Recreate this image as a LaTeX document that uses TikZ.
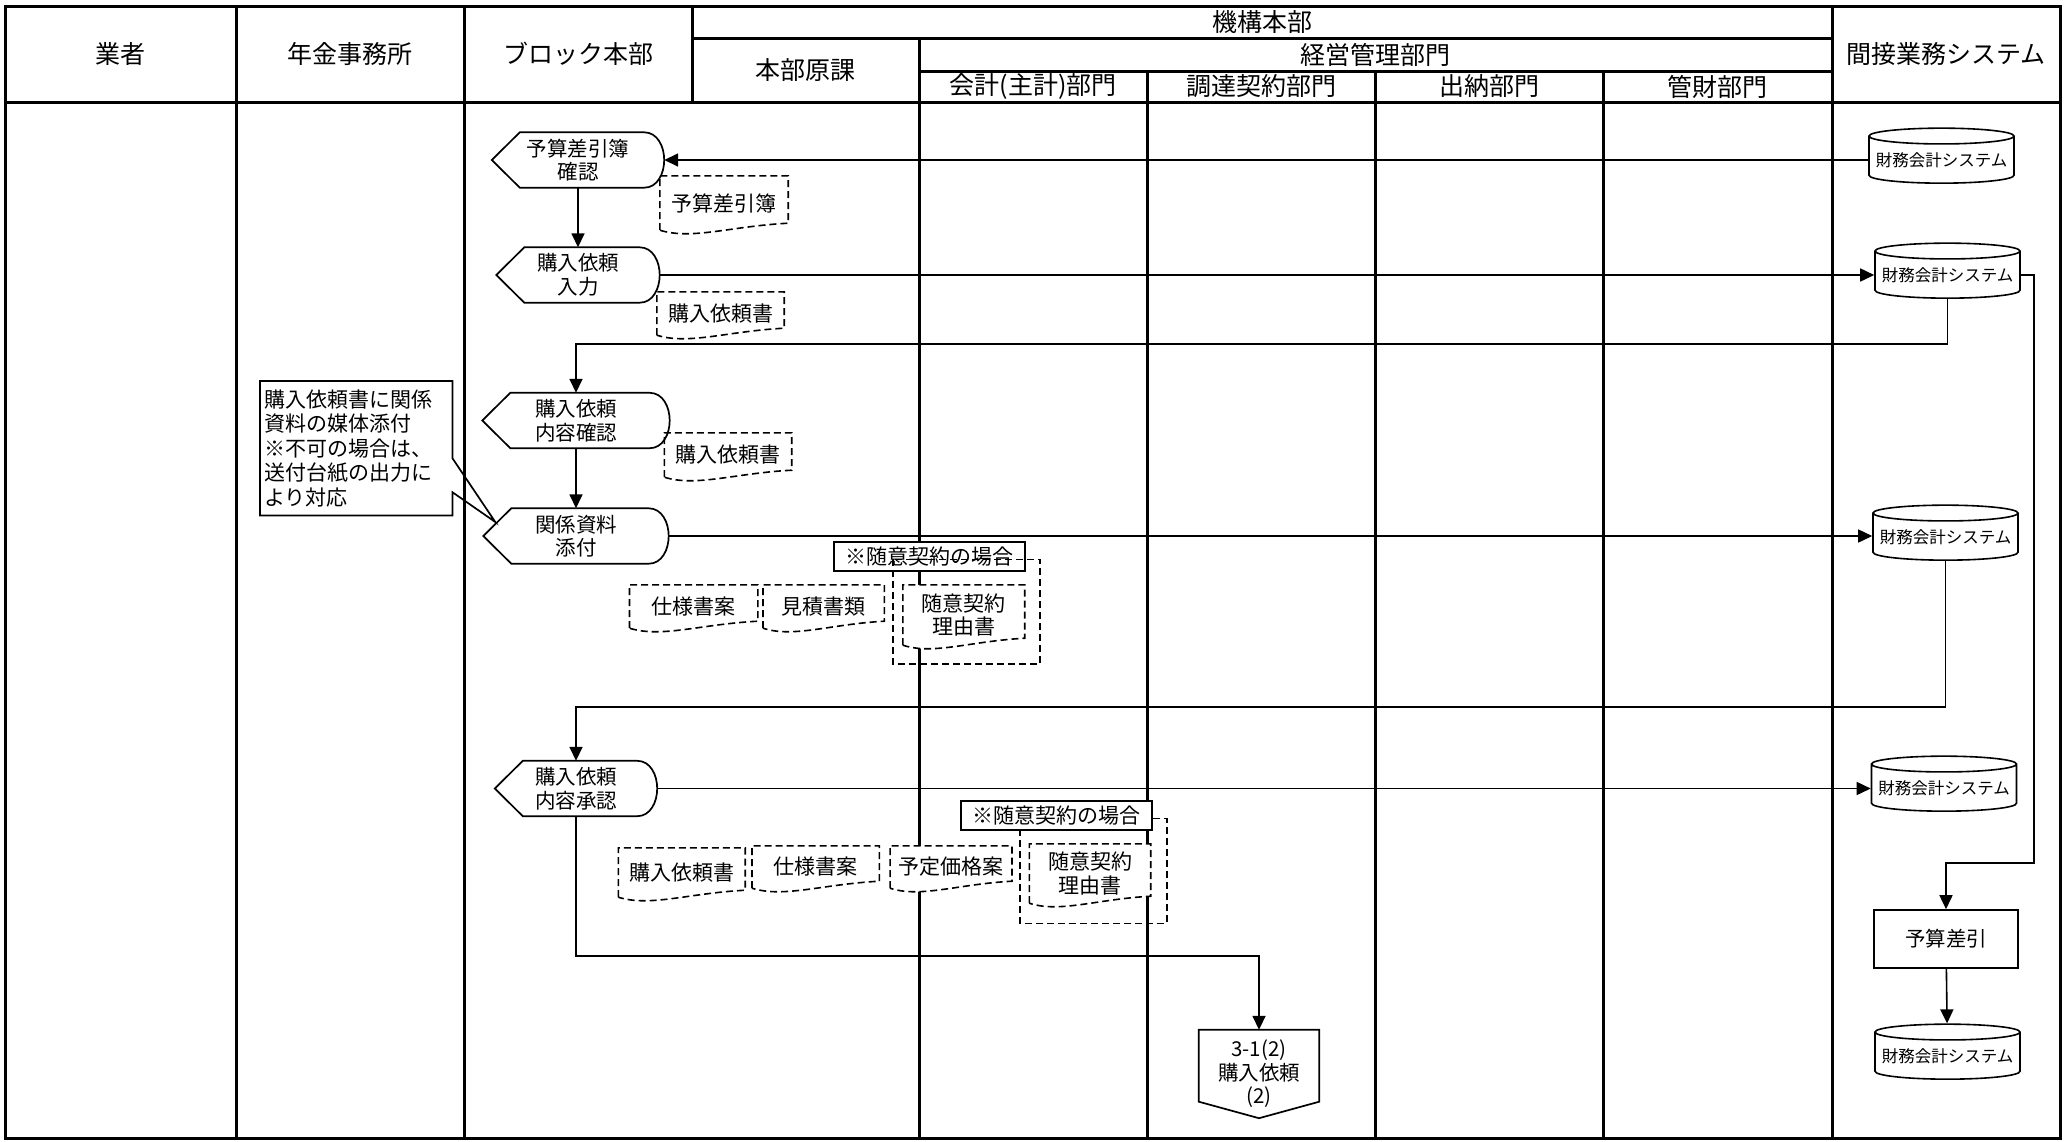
\documentclass[tikz,border=0pt]{standalone}
\usepackage{fontspec}
\setmainfont{Noto Sans CJK JP}
\usepackage{tikz}
\usetikzlibrary{positioning,arrows.meta,shapes.geometric,calc,backgrounds}
\newcommand\headfont{\fontsize{25}{30}\selectfont}
\newcommand\flowfont{\fontsize{20.5}{23.5}\selectfont}
\newcommand\docfont{\fontsize{21}{23.5}\selectfont}
\newcommand\memofont{\fontsize{21}{24.5}\selectfont}
\newcommand\dbfont{\fontsize{16.5}{18}\selectfont}
\tikzset{
  lane/.style={line width=3pt},
  head/.style={font=\headfont,inner sep=0pt},
  shapeline/.style={line width=1.7pt},
  edge/.style={line width=1.6pt,-{Triangle[length=14pt,width=13pt]}},
  disp/.style={align=center,font=\flowfont,minimum width=#1,minimum height=55pt,inner sep=0pt,
    append after command={\pgfextra{\draw[shapeline] (\tikzlastnode.west)
      -- ([xshift=28pt]\tikzlastnode.north west) -- ([xshift=-20pt]\tikzlastnode.north east)
      to[out=0,in=90] (\tikzlastnode.east) to[out=-90,in=0] ([xshift=-20pt]\tikzlastnode.south east)
      -- ([xshift=28pt]\tikzlastnode.south west) -- cycle;}}},
  docline/.style={line width=1.6pt,dash pattern=on 7pt off 4pt,fill=white},
  doc/.style 2 args={align=center,font=\docfont,minimum width=#1,minimum height=#2,inner sep=0pt,
    append after command={\pgfextra{\begin{pgfonlayer}{background}\draw[docline]
      (\tikzlastnode.south west) -- (\tikzlastnode.north west) -- (\tikzlastnode.north east)
      -- ([yshift=7pt]\tikzlastnode.south east)
      .. controls ($(\tikzlastnode.south west)!0.55!(\tikzlastnode.south east)+(0pt,4pt)$)
      and ($(\tikzlastnode.south west)!0.25!(\tikzlastnode.south east)+(0pt,-10pt)$)
      .. (\tikzlastnode.south west) -- cycle;\end{pgfonlayer}}}},
  grp/.style={line width=1.6pt,dash pattern=on 7pt off 4pt},
  casebox/.style={draw,fill=white,line width=2pt,font=\docfont,minimum width=191pt,minimum height=29pt,inner sep=0pt},
  memo/.style={anchor=north west,align=left,font=\memofont,text width=184pt,minimum height=134pt,inner sep=4pt},
  db/.style={cylinder,shape border rotate=90,draw,line width=1.6pt,aspect=0.12,minimum width=145pt,minimum height=55pt,font=\dbfont,inner sep=0pt},
  proc/.style={draw,line width=1.6pt,font=\flowfont,minimum width=144pt,minimum height=58pt},
  offpage/.style={align=center,font=\flowfont,minimum width=120pt,minimum height=88pt,inner sep=0pt,
    append after command={\pgfextra{\draw[shapeline] (\tikzlastnode.north west) -- (\tikzlastnode.north east)
      -- ([yshift=16.5pt]\tikzlastnode.south east) -- (\tikzlastnode.south)
      -- ([yshift=16.5pt]\tikzlastnode.south west) -- cycle;}}}
}
\begin{document}
\begin{tikzpicture}[x=1pt,y=-1pt]
  \useasboundingbox (0,0) rectangle (2065,1141);
  \begin{scope}[on background layer]
    \draw[lane] (5,6) rectangle (2060,1138);
    \draw[lane] (5,102) -- (2060,102);
    \draw[lane] (692,38) -- (1832,38);
    \draw[lane] (919,71) -- (1832,71);
    \draw[lane] (692,6) -- (692,102);
    \foreach \x in {236,464,1832} \draw[lane] (\x,6) -- (\x,1138);
    \draw[lane] (919,38) -- (919,1138);
    \foreach \x in {1147,1375,1603} \draw[lane] (\x,71) -- (\x,1138);
  \end{scope}

  \node[head] (hvendor) at (120.5,54) {業者};
  \node[head] (hoffice) at (350,54) {年金事務所};
  \node[head] (hblock) at (578,54) {ブロック本部};
  \node[head] (horg) at (1262,22) {機構本部};
  \node[head] (hdept) at (805.5,70) {本部原課};
  \node[head] (hmgmt) at (1375.5,54.5) {経営管理部門};
  \node[head] (hacct) at (1033,86.5) {会計(主計)部門};
  \node[head] (hproc) at (1261,86.5) {調達契約部門};
  \node[head] (hcash) at (1489,86.5) {出納部門};
  \node[head] (hasset) at (1717.5,86.5) {管財部門};
  \node[head] (hsys) at (1946,54) {間接業務システム};

  \node[disp=172pt] (s1) at (578,160) {予算差引簿\\確認};
  \node[disp=163pt] (s2) at (578,275) {購入依頼\\入力};
  \node[disp=187pt] (s3) at (576,420.5) {購入依頼\\内容確認};
  \node[disp=185pt] (s4) at (576,536) {関係資料\\添付};
  \node[disp=162pt] (s5) at (576,788.5) {購入依頼\\内容承認};

  \node[db] (db1) at (1941.5,160) {財務会計システム};
  \node[db] (db2) at (1947.5,275) {財務会計システム};
  \node[db] (db3) at (1945.5,537) {財務会計システム};
  \node[db] (db4) at (1944,788) {財務会計システム};
  \node[proc] (bud) at (1946,939) {予算差引};
  \node[db] (db5) at (1947.5,1056) {財務会計システム};
  \node[offpage] (next) at (1259,1074) {3-1(2)\\購入依頼\\(2)};

  \node[doc={128pt}{54pt}] (d1) at (724,203) {予算差引簿};
  \node[doc={127pt}{43pt}] (d2) at (720.5,313.5) {購入依頼書};
  \node[doc={127pt}{44pt}] (d3) at (728,455) {購入依頼書};
  \node[doc={128pt}{43pt}] (d4) at (693.7,606.5) {仕様書案};
  \node[doc={121pt}{43pt}] (d5) at (823.7,606.5) {見積書類};
  \node[doc={121.5pt}{60pt}] (d6) at (963.8,615) {随意契約\\理由書};
  \node[casebox] (case1) at (929,556.2) {※随意契約の場合};
  \draw[grp] (892.7,559.3) rectangle (1040.2,664);

  \node[doc={126.5pt}{49pt}] (d7) at (681.8,872.5) {購入依頼書};
  \node[doc={127pt}{42pt}] (d8) at (815.7,867) {仕様書案};
  \node[doc={121.5pt}{42pt}] (d9) at (951,867) {予定価格案};
  \node[doc={121pt}{59pt}] (d10) at (1090,873.5) {随意契約\\理由書};
  \draw[grp] (1020,818.3) rectangle (1166.7,923.3);
  \node[casebox] (case2) at (1056.2,815.5) {※随意契約の場合};

  \node[memo] (memo) at (260,381) {購入依頼書に関係\\資料の媒体添付\\※不可の場合は、\\送付台紙の出力に\\より対応};
  \coordinate (memotip) at ($(s4.west)+(12,-14)$);
  \draw[shapeline] (memo.north west) -- (memo.north east) -- ([yshift=-10pt]memo.east) -- (memotip)
    -- ([yshift=-44pt]memo.east) -- (memo.south east) -- (memo.south west) -- cycle;

  \coordinate (budturn) at (2034,863);
  \draw[edge] (db1.west) -- (s1.east);
  \draw[edge] (s1) -- (s2);
  \draw[edge] (s2.east) -- (db2.west);
  \draw[edge] (db2.south) -- ++(0,45) -| (s3.north);
  \draw[edge] (s3) -- (s4);
  \draw[edge] (s4.east) -- (s4.east -| db3.west);
  \draw[edge] (db3.south) -- ++(0,146) -| (s5.north);
  \draw[edge] (s5.east) -- (s5.east -| db4.west);
  \draw[edge] (s5.south) -- ++(0,140) -| (next.north);
  \draw[edge] (db2.east) -| (budturn) -| (bud.north);
  \draw[edge] (bud) -- (db5);
\end{tikzpicture}
\end{document}
